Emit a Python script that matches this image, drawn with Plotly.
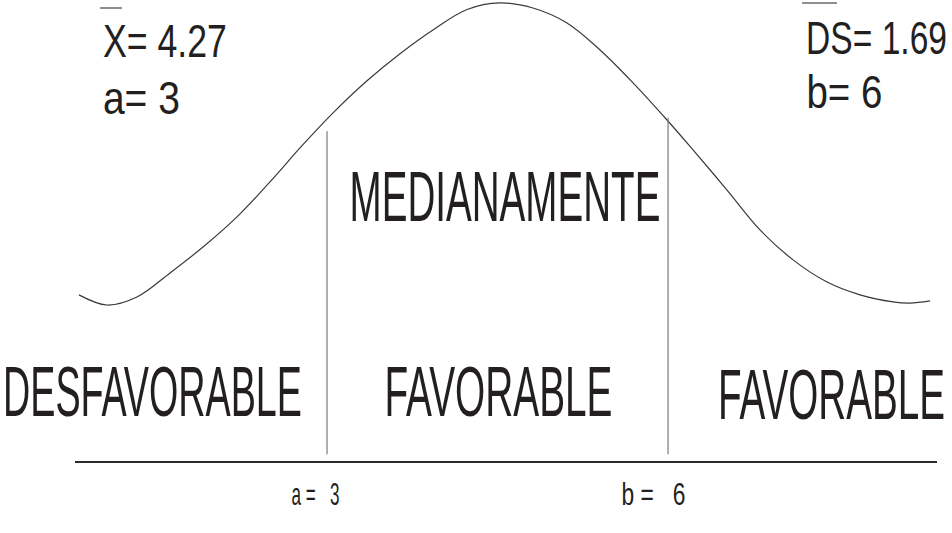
import plotly.graph_objects as go

# ---- data ----
mean_value = 4.27
sd_value = 1.69
a_value = 3
b_value = 6

curve_x = [0.818, 1.064, 1.328, 1.619, 1.909, 2.208, 2.498, 2.780, 3.053,
           3.352, 3.642, 3.932, 4.232, 4.522, 4.812, 5.111, 5.402, 5.692, 5.991,
           6.220, 6.519, 6.809, 7.100, 7.399, 7.689, 7.979, 8.129, 8.305]
curve_y = [0.0859, 0.0807, 0.0848, 0.0972, 0.1105, 0.1260, 0.1440, 0.1626, 0.1795,
           0.1960, 0.2099, 0.2221, 0.2326, 0.2360, 0.2334, 0.2257, 0.2118, 0.1949, 0.1758,
           0.1604, 0.1398, 0.1193, 0.1039, 0.0925, 0.0859, 0.0823, 0.0817, 0.0828]

zone_labels = ["DESFAVORABLE", "MEDIANAMENTE", "FAVORABLE", "FAVORABLE"]
cut_labels = [f"a =   {a_value}", f"b =   {b_value}"]

INK = "#231f20"
FONT = "Liberation Sans, Arial, sans-serif"

fig = go.Figure()

# bell curve
fig.add_trace(go.Scatter(x=curve_x, y=curve_y, mode="lines",
                         line=dict(color="#3a3a3a", width=1.2, shape="spline", smoothing=1.0),
                         hoverinfo="skip", showlegend=False))
# cut lines a and b
fig.add_trace(go.Scatter(x=[a_value, a_value], y=[0.004, 0.170], mode="lines",
                         line=dict(color="#7a7a7a", width=1.2), hoverinfo="skip", showlegend=False))
fig.add_trace(go.Scatter(x=[b_value, b_value], y=[0.004, 0.177], mode="lines",
                         line=dict(color="#7a7a7a", width=1.2), hoverinfo="skip", showlegend=False))
# baseline
fig.add_trace(go.Scatter(x=[0.783, 8.366], y=[0, 0], mode="lines",
                         line=dict(color="#2a2a2a", width=2), hoverinfo="skip", showlegend=False))

W, H = 952, 533

def px(x):
    return x / W

def py(y):
    return 1 - y / H

# (text, centre x px, centre y px, font size, target width px)
labels = [
    (f"X= {mean_value:.2f}", 165, 41, 46, 124),
    (f"a= {a_value}", 141.5, 98, 46, 77),
    (f"DS= {sd_value:.2f}", 876.5, 38, 46, 141),
    (f"b= {b_value}", 844, 92, 46, 76),
    (zone_labels[1], 504.5, 197, 70, 311),
    (zone_labels[0], 152.5, 392, 70, 299),
    (zone_labels[2], 498, 392, 70, 228),
    (zone_labels[3], 831.5, 395, 70, 227),
    (cut_labels[0], 315, 494, 31, 48),
    (cut_labels[1], 653, 494, 31, 64),
]

annotations = []
targets = []
for text, cx, cy, size, tw in labels:
    annotations.append(dict(text=text, x=px(cx), y=py(cy), xref="paper", yref="paper",
                            xanchor="center", yanchor="middle", showarrow=False,
                            font=dict(family=FONT, size=size, color=INK)))
    targets.append(tw)

shapes = [
    dict(type="line", xref="paper", yref="paper", x0=px(100), x1=px(122), y0=py(8), y1=py(8),
         line=dict(color=INK, width=1)),
    dict(type="line", xref="paper", yref="paper", x0=px(802), x1=px(837), y0=py(3), y1=py(3),
         line=dict(color=INK, width=1)),
]

fig.update_layout(
    width=W, height=H,
    margin=dict(l=0, r=0, t=0, b=0),
    paper_bgcolor="white", plot_bgcolor="white",
    xaxis=dict(range=[0.1232, 8.498], visible=False, fixedrange=True),
    yaxis=dict(range=[-0.0365, 0.2375], visible=False, fixedrange=True),
    annotations=annotations,
    shapes=shapes,
    showlegend=False,
)

post = """
document.body.style.margin = '0';
document.body.style.padding = '0';
var gd = document.getElementById('{plot_id}');
var targets = %s;
function squeeze() {
  targets.forEach(function(tw, i) {
    var t = gd.querySelector('.annotation[data-index="' + i + '"] .annotation-text');
    if (!t) return;
    t.removeAttribute('transform');
    var b = t.getBBox();
    if (!b.width) return;
    var s = tw / b.width;
    var cx = b.x + b.width / 2;
    t.setAttribute('transform', 'translate(' + cx + ',0) scale(' + s + ',1) translate(' + (-cx) + ',0)');
  });
}
squeeze();
if (gd.on) { gd.on('plotly_afterplot', squeeze); }
""" % str(targets)

fig.write_html("out.html", post_script=post, config={"displayModeBar": False, "staticPlot": True})
